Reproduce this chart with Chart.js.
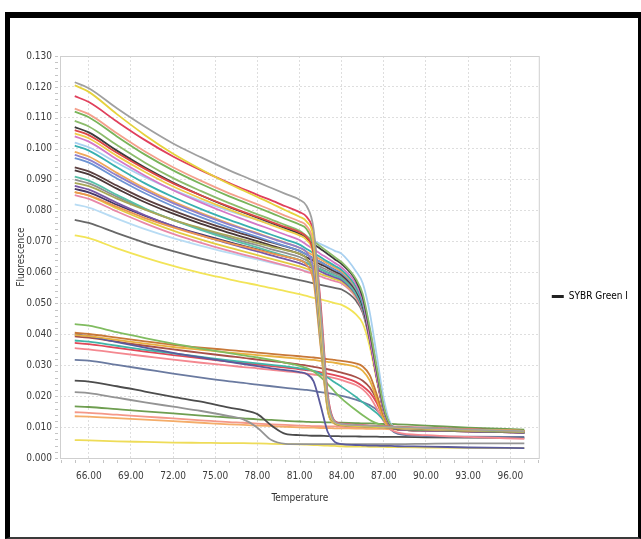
<!DOCTYPE html>
<html>
<head>
<meta charset="utf-8">
<script src="https://cdn.jsdelivr.net/npm/chart.js@4.4.1/dist/chart.umd.min.js"></script>
<style>
  body { margin: 0; background: #fff; }
  #frame {
    position: absolute;
    left: 5px;
    top: 12px;
    width: 628px;
    height: 519px;
    border-style: solid;
    border-color: #000 #000 #3a3a3a #000;
    border-width: 6px 3px 2px 5px;
    background: #fff;
  }
</style>
</head>
<body>
<div id="frame"><canvas id="meltChart" width="628" height="519"></canvas></div>
<script>
// temperature steps (°C) shared by every well
const temperature = [65, 66, 68, 70, 72, 74, 76, 77, 78, 79, 80, 81, 81.5, 82, 82.5, 83, 83.5, 84, 85, 85.5, 86, 86.5, 87, 87.5, 88, 90, 93, 97];
const xTickValues = [66, 69, 72, 75, 78, 81, 84, 87, 90, 93, 96];
const legendLabel = "SYBR Green I";

// wells that melt around 82.5 °C
const earlyMelt = [
  [0.1215, 0.1196, 0.1131, 0.1071, 0.1017, 0.0972, 0.093, 0.0911, 0.0892, 0.0873, 0.0854, 0.0835, 0.0815, 0.074, 0.048, 0.02, 0.0118, 0.011, 0.0106, 0.0105, 0.0104, 0.0103, 0.0102, 0.0101, 0.01, 0.0097, 0.0092, 0.0087],
  [0.1205, 0.1184, 0.1112, 0.1044, 0.0984, 0.0933, 0.0886, 0.0865, 0.0844, 0.0823, 0.0801, 0.078, 0.0765, 0.071, 0.046, 0.019, 0.0116, 0.0108, 0.0104, 0.0103, 0.0102, 0.0101, 0.0101, 0.01, 0.0099, 0.0096, 0.0092, 0.0088],
  [0.117, 0.1151, 0.1088, 0.1028, 0.0975, 0.093, 0.0889, 0.087, 0.0851, 0.0833, 0.0814, 0.0795, 0.078, 0.0725, 0.05, 0.021, 0.012, 0.0111, 0.0107, 0.0106, 0.0105, 0.0104, 0.0103, 0.0102, 0.0101, 0.0098, 0.0093, 0.0088],
  [0.113, 0.1112, 0.105, 0.0991, 0.094, 0.0896, 0.0856, 0.0838, 0.082, 0.0802, 0.0783, 0.0765, 0.075, 0.069, 0.044, 0.018, 0.0115, 0.0108, 0.0105, 0.0104, 0.0103, 0.0102, 0.0101, 0.01, 0.0099, 0.0096, 0.0092, 0.0088],
  [0.112, 0.1102, 0.104, 0.0981, 0.093, 0.0886, 0.0846, 0.0828, 0.081, 0.0792, 0.0773, 0.0755, 0.074, 0.0675, 0.042, 0.017, 0.0114, 0.0107, 0.0104, 0.0103, 0.0102, 0.0101, 0.01, 0.0099, 0.0098, 0.0095, 0.009, 0.0086],
  [0.106, 0.1044, 0.0987, 0.0935, 0.0888, 0.0849, 0.0813, 0.0796, 0.078, 0.0763, 0.0747, 0.073, 0.0715, 0.066, 0.043, 0.0175, 0.0114, 0.0107, 0.0104, 0.0103, 0.0102, 0.0101, 0.01, 0.0099, 0.0098, 0.0095, 0.0091, 0.0087],
  [0.105, 0.1034, 0.0977, 0.0925, 0.0878, 0.0839, 0.0803, 0.0786, 0.077, 0.0753, 0.0737, 0.072, 0.0705, 0.065, 0.04, 0.016, 0.0112, 0.0106, 0.0103, 0.0102, 0.0101, 0.01, 0.0099, 0.0098, 0.0097, 0.0094, 0.009, 0.0086],
  [0.098, 0.0965, 0.0914, 0.0866, 0.0824, 0.0788, 0.0755, 0.074, 0.0725, 0.071, 0.0695, 0.068, 0.0665, 0.061, 0.039, 0.0165, 0.0113, 0.0106, 0.0103, 0.0102, 0.0101, 0.01, 0.0099, 0.0098, 0.0097, 0.0094, 0.009, 0.0086],
  [0.089, 0.0879, 0.0839, 0.0803, 0.077, 0.0743, 0.0718, 0.0706, 0.0695, 0.0683, 0.0672, 0.066, 0.0645, 0.059, 0.037, 0.016, 0.0112, 0.0106, 0.0103, 0.0102, 0.0101, 0.01, 0.0099, 0.0098, 0.0097, 0.0094, 0.009, 0.0086],
  [0.086, 0.0849, 0.0812, 0.0776, 0.0746, 0.0719, 0.0695, 0.0684, 0.0673, 0.0662, 0.0651, 0.064, 0.0625, 0.057, 0.036, 0.0155, 0.0111, 0.0105, 0.0102, 0.0101, 0.01, 0.0099, 0.0098, 0.0097, 0.0096, 0.0093, 0.0089, 0.0085],
];

// wells that melt around 86.5 °C
const lateMelt = [
  [0.109, 0.1072, 0.1012, 0.0955, 0.0905, 0.0863, 0.0824, 0.0806, 0.0788, 0.0771, 0.0753, 0.0735, 0.0718, 0.0701, 0.0684, 0.0667, 0.065, 0.0633, 0.058, 0.053, 0.042, 0.029, 0.0165, 0.0106, 0.0096, 0.0091, 0.0088, 0.0084],
  [0.107, 0.1053, 0.0994, 0.0939, 0.0891, 0.0849, 0.0811, 0.0794, 0.0777, 0.076, 0.0743, 0.0725, 0.0709, 0.0692, 0.0676, 0.066, 0.0643, 0.0627, 0.0575, 0.052, 0.041, 0.028, 0.016, 0.0104, 0.0094, 0.009, 0.0087, 0.0083],
  [0.104, 0.1023, 0.0966, 0.0913, 0.0866, 0.0826, 0.0789, 0.0772, 0.0755, 0.0739, 0.0722, 0.0705, 0.069, 0.0675, 0.066, 0.0646, 0.0631, 0.0616, 0.0565, 0.051, 0.039, 0.026, 0.015, 0.0102, 0.0093, 0.0089, 0.0086, 0.0082],
  [0.102, 0.1005, 0.0955, 0.0908, 0.0867, 0.0831, 0.0799, 0.0784, 0.077, 0.0755, 0.074, 0.0725, 0.0714, 0.0703, 0.0692, 0.0681, 0.067, 0.066, 0.0605, 0.0565, 0.047, 0.033, 0.019, 0.011, 0.0097, 0.0092, 0.0089, 0.0085],
  [0.101, 0.0994, 0.094, 0.0888, 0.0844, 0.0805, 0.077, 0.0754, 0.0738, 0.0722, 0.0706, 0.069, 0.0676, 0.0663, 0.0649, 0.0635, 0.0622, 0.0608, 0.0555, 0.05, 0.04, 0.027, 0.0155, 0.0103, 0.0094, 0.009, 0.0087, 0.0083],
  [0.099, 0.0975, 0.0922, 0.0872, 0.0829, 0.0792, 0.0758, 0.0742, 0.0727, 0.0711, 0.0696, 0.068, 0.0667, 0.0654, 0.0642, 0.0629, 0.0616, 0.0603, 0.0552, 0.0505, 0.0415, 0.029, 0.017, 0.0107, 0.0096, 0.0092, 0.0088, 0.0084],
  [0.097, 0.0955, 0.0904, 0.0856, 0.0814, 0.0778, 0.0745, 0.073, 0.0715, 0.07, 0.0685, 0.067, 0.0658, 0.0646, 0.0634, 0.0621, 0.0609, 0.0597, 0.0548, 0.05, 0.04, 0.027, 0.0158, 0.0104, 0.0095, 0.0091, 0.0088, 0.0084],
  [0.094, 0.0927, 0.0881, 0.0837, 0.08, 0.0767, 0.0738, 0.0724, 0.0711, 0.0697, 0.0684, 0.067, 0.0658, 0.0646, 0.0634, 0.0621, 0.0609, 0.0597, 0.0545, 0.0495, 0.0395, 0.0265, 0.0155, 0.0103, 0.0094, 0.009, 0.0087, 0.0083],
  [0.093, 0.0917, 0.0871, 0.0827, 0.079, 0.0757, 0.0728, 0.0714, 0.0701, 0.0687, 0.0674, 0.066, 0.0649, 0.0637, 0.0626, 0.0615, 0.0603, 0.0592, 0.0542, 0.049, 0.0385, 0.026, 0.015, 0.0102, 0.0093, 0.0089, 0.0086, 0.0082],
  [0.091, 0.0897, 0.0851, 0.0807, 0.077, 0.0737, 0.0708, 0.0694, 0.0681, 0.0667, 0.0654, 0.064, 0.063, 0.062, 0.061, 0.06, 0.059, 0.058, 0.0532, 0.0485, 0.039, 0.0265, 0.0155, 0.0103, 0.0094, 0.009, 0.0087, 0.0083],
  [0.09, 0.0888, 0.0845, 0.0805, 0.077, 0.074, 0.0713, 0.07, 0.0688, 0.0675, 0.0663, 0.065, 0.0639, 0.0629, 0.0618, 0.0607, 0.0597, 0.0586, 0.054, 0.0495, 0.041, 0.028, 0.0165, 0.0106, 0.0096, 0.0092, 0.0089, 0.0085],
  [0.088, 0.0868, 0.0825, 0.0785, 0.075, 0.072, 0.0693, 0.068, 0.0668, 0.0655, 0.0643, 0.063, 0.0621, 0.0612, 0.0603, 0.0593, 0.0584, 0.0575, 0.0528, 0.048, 0.0385, 0.026, 0.0152, 0.0102, 0.0093, 0.0089, 0.0086, 0.0082],
  [0.087, 0.0859, 0.0819, 0.0783, 0.075, 0.0723, 0.0698, 0.0686, 0.0675, 0.0663, 0.0652, 0.064, 0.063, 0.062, 0.061, 0.06, 0.059, 0.058, 0.0535, 0.049, 0.04, 0.027, 0.016, 0.0104, 0.0094, 0.009, 0.0087, 0.0083],
  [0.086, 0.0848, 0.0807, 0.0769, 0.0735, 0.0706, 0.068, 0.0668, 0.0656, 0.0644, 0.0632, 0.062, 0.0612, 0.0603, 0.0595, 0.0587, 0.0578, 0.057, 0.0525, 0.048, 0.039, 0.027, 0.016, 0.0105, 0.0096, 0.0092, 0.0089, 0.0086],
  [0.085, 0.0838, 0.0797, 0.0759, 0.0725, 0.0696, 0.067, 0.0658, 0.0646, 0.0634, 0.0622, 0.061, 0.0602, 0.0595, 0.0587, 0.0579, 0.0572, 0.0564, 0.052, 0.0475, 0.0385, 0.0265, 0.0155, 0.0103, 0.0094, 0.009, 0.0087, 0.0083],
  [0.082, 0.081, 0.0774, 0.074, 0.0711, 0.0686, 0.0663, 0.0652, 0.0642, 0.0631, 0.0621, 0.061, 0.0604, 0.0598, 0.0593, 0.0587, 0.0581, 0.0575, 0.0545, 0.051, 0.0425, 0.03, 0.0175, 0.0108, 0.0096, 0.0092, 0.0088, 0.0084],
  [0.077, 0.076, 0.0727, 0.0696, 0.0669, 0.0645, 0.0624, 0.0614, 0.0604, 0.0595, 0.0585, 0.0575, 0.057, 0.0565, 0.056, 0.0555, 0.055, 0.0545, 0.051, 0.047, 0.038, 0.026, 0.0152, 0.0102, 0.0093, 0.0089, 0.0086, 0.0082],
  [0.072, 0.0711, 0.0678, 0.0648, 0.0621, 0.0598, 0.0578, 0.0568, 0.0559, 0.0549, 0.054, 0.053, 0.0524, 0.0518, 0.0513, 0.0507, 0.0501, 0.0495, 0.0465, 0.0435, 0.036, 0.025, 0.0145, 0.0101, 0.0093, 0.0089, 0.0086, 0.0083],
];

// low signal wells
const lowSignal = [
  [0.0433, 0.0428, 0.0407, 0.0388, 0.037, 0.0354, 0.0339, 0.0332, 0.0325, 0.0317, 0.0308, 0.0298, 0.0291, 0.028, 0.0262, 0.024, 0.0215, 0.0192, 0.0155, 0.0138, 0.0123, 0.0112, 0.0105, 0.0101, 0.0099, 0.0096, 0.0092, 0.0088],
  [0.0405, 0.0401, 0.0389, 0.0377, 0.0366, 0.0357, 0.0349, 0.0345, 0.0341, 0.0337, 0.0333, 0.0329, 0.0327, 0.0325, 0.0322, 0.032, 0.0317, 0.0314, 0.0306, 0.0296, 0.0268, 0.0205, 0.0135, 0.0099, 0.0093, 0.009, 0.0087, 0.0084],
  [0.0398, 0.0394, 0.0382, 0.037, 0.0359, 0.035, 0.0341, 0.0337, 0.0333, 0.0329, 0.0325, 0.0321, 0.0319, 0.0317, 0.0314, 0.0311, 0.0308, 0.0304, 0.0295, 0.0282, 0.025, 0.019, 0.0125, 0.0097, 0.0092, 0.0089, 0.0087, 0.0085],
  [0.04, 0.0394, 0.0375, 0.0357, 0.034, 0.0325, 0.0311, 0.0304, 0.0297, 0.029, 0.0284, 0.0278, 0.0272, 0.0248, 0.017, 0.0085, 0.0052, 0.0045, 0.0042, 0.0041, 0.004, 0.004, 0.0039, 0.0039, 0.0038, 0.0037, 0.0034, 0.0032],
  [0.038, 0.0376, 0.0363, 0.035, 0.0338, 0.0327, 0.0316, 0.0311, 0.0306, 0.0301, 0.0296, 0.029, 0.0287, 0.0282, 0.0272, 0.026, 0.0245, 0.023, 0.0198, 0.018, 0.0163, 0.0145, 0.0122, 0.0101, 0.0094, 0.009, 0.0087, 0.0084],
  [0.0372, 0.0368, 0.0356, 0.0344, 0.0333, 0.0322, 0.0312, 0.0307, 0.0302, 0.0297, 0.0292, 0.0287, 0.0284, 0.0281, 0.0277, 0.0273, 0.0268, 0.0262, 0.0246, 0.0232, 0.0212, 0.0178, 0.0128, 0.0098, 0.0092, 0.0089, 0.0086, 0.0083],
  [0.0355, 0.0351, 0.034, 0.0329, 0.0318, 0.0308, 0.0299, 0.0294, 0.029, 0.0285, 0.028, 0.0276, 0.0273, 0.027, 0.0267, 0.0263, 0.0258, 0.0252, 0.0236, 0.0222, 0.0198, 0.016, 0.0118, 0.0092, 0.0082, 0.0074, 0.0068, 0.0062],
  [0.0393, 0.0389, 0.0376, 0.0363, 0.0351, 0.034, 0.0329, 0.0324, 0.0318, 0.0313, 0.0308, 0.0302, 0.0299, 0.0295, 0.0291, 0.0287, 0.0282, 0.0276, 0.0262, 0.025, 0.0228, 0.0188, 0.0132, 0.0099, 0.0093, 0.009, 0.0087, 0.0084],
  [0.0317, 0.0315, 0.0301, 0.0287, 0.0273, 0.026, 0.0248, 0.0243, 0.0237, 0.0232, 0.0227, 0.0222, 0.022, 0.0217, 0.0213, 0.021, 0.0206, 0.0201, 0.0189, 0.0181, 0.0171, 0.0155, 0.0125, 0.0092, 0.0078, 0.0071, 0.0069, 0.0068],
  [0.025, 0.0247, 0.0232, 0.0215, 0.0198, 0.0182, 0.0163, 0.0155, 0.0142, 0.0105, 0.0078, 0.0074, 0.0073, 0.0072, 0.0072, 0.0071, 0.0071, 0.007, 0.007, 0.0069, 0.0069, 0.0069, 0.0068, 0.0068, 0.0068, 0.0067, 0.0066, 0.0065],
  [0.0213, 0.021, 0.0195, 0.018, 0.0166, 0.0152, 0.0135, 0.0125, 0.0098, 0.0058, 0.0046, 0.0045, 0.0045, 0.0045, 0.0045, 0.0045, 0.0045, 0.0045, 0.0045, 0.0045, 0.0045, 0.0045, 0.0045, 0.0045, 0.0045, 0.0046, 0.0047, 0.0047],
  [0.0167, 0.0165, 0.0158, 0.0151, 0.0144, 0.0137, 0.0131, 0.0128, 0.0125, 0.0123, 0.012, 0.0118, 0.0117, 0.0116, 0.0116, 0.0115, 0.0115, 0.0114, 0.0113, 0.0112, 0.0112, 0.0111, 0.011, 0.011, 0.0109, 0.0105, 0.0098, 0.0092],
  [0.0148, 0.0146, 0.014, 0.0134, 0.0128, 0.0122, 0.0116, 0.0114, 0.0111, 0.0109, 0.0107, 0.0105, 0.0104, 0.0103, 0.0103, 0.0102, 0.0102, 0.0101, 0.01, 0.01, 0.0099, 0.0099, 0.0098, 0.0098, 0.0097, 0.0095, 0.0092, 0.0088],
  [0.0135, 0.0134, 0.0129, 0.0124, 0.0119, 0.0114, 0.0109, 0.0107, 0.0105, 0.0103, 0.0101, 0.0099, 0.0098, 0.0098, 0.0097, 0.0097, 0.0096, 0.0096, 0.0095, 0.0095, 0.0094, 0.0094, 0.0094, 0.0093, 0.0093, 0.0091, 0.0089, 0.0087],
  [0.0058, 0.0057, 0.0054, 0.0052, 0.005, 0.0049, 0.0048, 0.0048, 0.0047, 0.0046, 0.0045, 0.0044, 0.0043, 0.0042, 0.0041, 0.004, 0.0039, 0.0038, 0.0037, 0.0037, 0.0036, 0.0036, 0.0036, 0.0035, 0.0035, 0.0034, 0.0033, 0.0032],
];

const earlyColors = ["#a0a0a0", "#e6d23c", "#e0405c", "#f4a08c", "#78b45a", "#dc4848", "#f0cc48", "#9080cc", "#a8a858", "#ec9650"];
const lateColors = ["#8cbc6c", "#3c3c3c", "#d478c8", "#a8d0f0", "#38b0b0", "#f0a85a", "#6c94d4", "#5c4040", "#4a3838", "#58c0a8", "#909090", "#7858a8", "#483868", "#e2cc40", "#e888a8", "#b8dcf4", "#686868", "#f2e458"];
const lowColors = ["#80bc60", "#c87838", "#e8b040", "#5a5a9c", "#40b4a8", "#e04858", "#f48890", "#a85048", "#6a7aa0", "#4c4c4c", "#949494", "#6e9e50", "#f49888", "#f4ac68", "#eedc58"];

const FONT = "'DejaVu Sans Condensed', 'DejaVu Sans', sans-serif";

//build one dataset per well
const makeDataset = (values, color) => ({
  label: legendLabel,
  data: values.map((v, i) => ({ x: temperature[i], y: v })),
  borderColor: color,
  borderWidth: 1.8,
  pointRadius: 0,
  fill: false,
  cubicInterpolationMode: "monotone",
});

const datasets = [];
earlyMelt.forEach((row, i) => datasets.push(makeDataset(row, earlyColors[i])));
lateMelt.forEach((row, i) => datasets.push(makeDataset(row, lateColors[i])));
lowSignal.forEach((row, i) => datasets.push(makeDataset(row, lowColors[i])));

//plot box and small minor ticks
const plotFrame = {
  id: "plotFrame",
  beforeDatasetsDraw(chart) {
    const { ctx, chartArea: a, scales } = chart;
    ctx.save();
    ctx.strokeStyle = "#cfcfcf";
    ctx.lineWidth = 1;
    ctx.strokeRect(a.left + 0.5, a.top + 0.5, a.right - a.left - 1, a.bottom - a.top);
    ctx.strokeStyle = "#c4c4c4";
    ctx.beginPath();
    for (let t = Math.ceil(scales.x.min); t <= scales.x.max; t++) {
      const px = Math.round(scales.x.getPixelForValue(t)) + 0.5;
      ctx.moveTo(px, a.bottom + 2);
      ctx.lineTo(px, a.bottom + 5);
    }
    for (let k = 0; k <= 65; k++) {
      const py = Math.round(scales.y.getPixelForValue(k * 0.002)) + 0.5;
      ctx.moveTo(a.left - 5, py);
      ctx.lineTo(a.left - 2, py);
    }
    ctx.stroke();
    ctx.restore();
  },
};

const meltChart = new Chart(document.getElementById("meltChart"), {
  type: "line",
  data: { datasets },
  options: {
    responsive: false,
    animation: false,
    layout: { padding: { top: 38, right: 0, bottom: 0, left: 0 } },
    plugins: {
      tooltip: { enabled: false },
      legend: {
        position: "right",
        labels: {
          boxWidth: 12,
          boxHeight: 3,
          padding: 12,
          color: "#333",
          font: { family: FONT, size: 10 },
          generateLabels: () => [
            { text: legendLabel, fillStyle: "#222", strokeStyle: "#222", lineWidth: 0, hidden: false, datasetIndex: 0 },
          ],
        },
      },
    },
    scales: {
      x: {
        type: "linear",
        min: 63.95,
        max: 98.1,
        afterBuildTicks: (axis) => {
          axis.ticks = xTickValues.map((v) => ({ value: v }));
        },
        afterFit: (axis) => {
          axis.height = 79;
        },
        ticks: {
          padding: 12,
          color: "#3c3c3c",
          font: { family: FONT, size: 10 },
          maxRotation: 0,
          callback: (v) => Number(v).toFixed(2),
        },
        grid: { color: "#dedede", drawTicks: false },
        border: { display: false, dash: [2, 2] },
        title: {
          display: true,
          text: "Temperature",
          color: "#333",
          font: { family: FONT, size: 10 },
          padding: { top: 0, bottom: 33 },
        },
      },
      y: {
        min: 0,
        max: 0.13,
        afterFit: (axis) => {
          axis.width = 50;
        },
        ticks: {
          stepSize: 0.01,
          padding: 8,
          color: "#3c3c3c",
          font: { family: FONT, size: 10 },
          callback: (v) => Number(v).toFixed(3),
        },
        grid: { color: "#dedede", drawTicks: false },
        border: { display: false, dash: [2, 2] },
        title: {
          display: true,
          text: "Fluorescence",
          color: "#333",
          font: { family: FONT, size: 10 },
          padding: { top: 5, bottom: 0 },
        },
      },
    },
  },
  plugins: [plotFrame],
});
</script>
</body>
</html>
